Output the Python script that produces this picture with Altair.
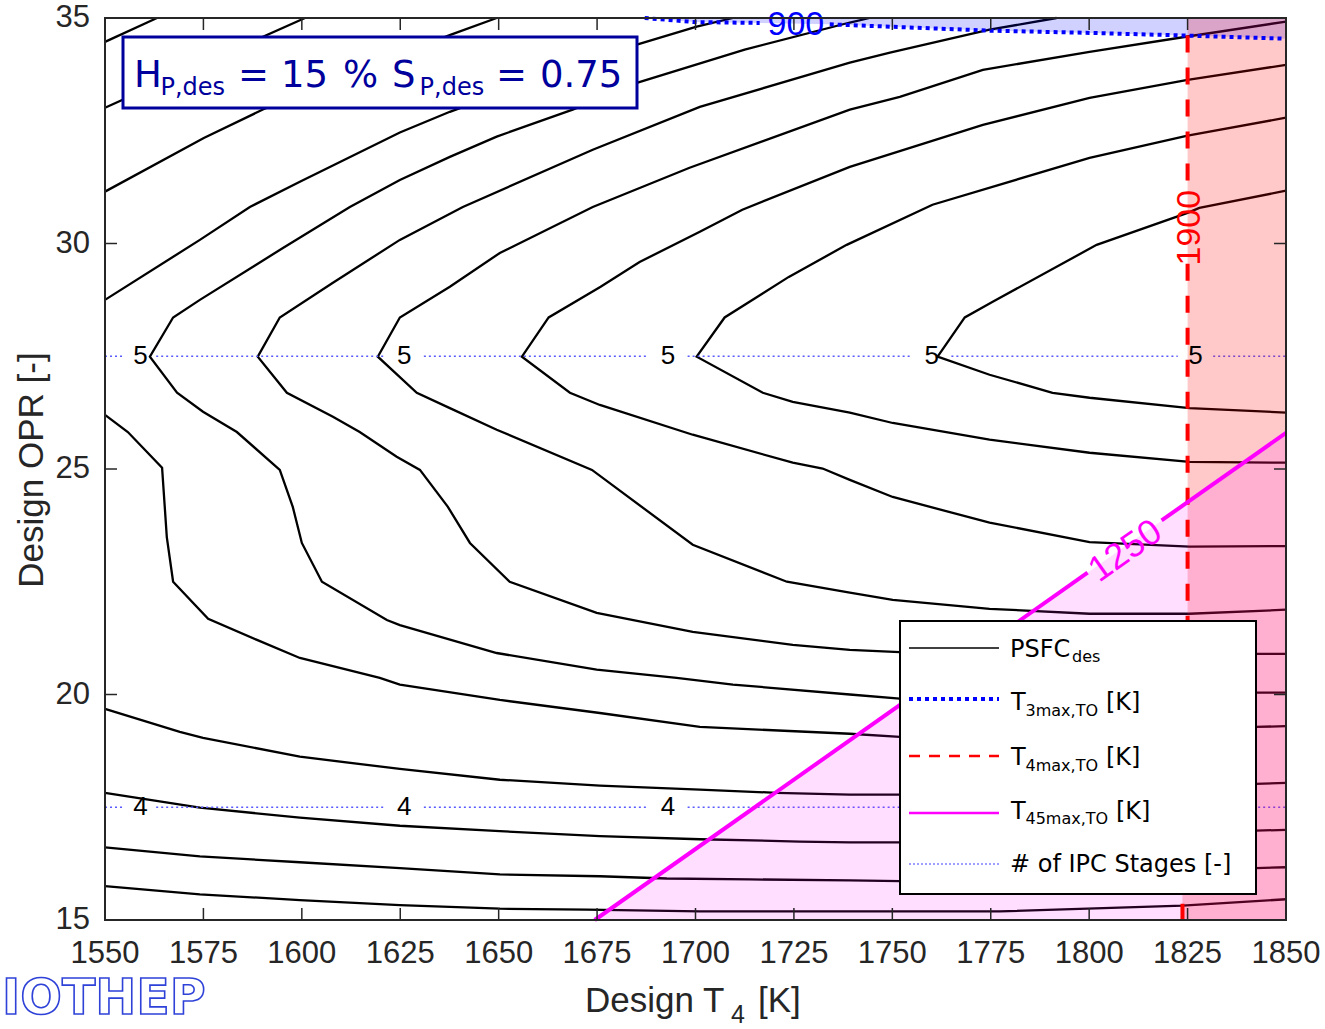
import altair as alt
import pandas as pd

# ---------------- data (Design T4 [K], Design OPR [-]) ----------------
# PSFC_des contour lines
c01_t4 = [1550.0, 1563.2]
c01_opr = [34.47, 35.0]
c02_t4 = [1550.0, 1575.1, 1600.8]
c02_opr = [33.01, 34.0, 35.0]
c03_t4 = [1550.0, 1575.1, 1590.1, 1612.2, 1637.9, 1649.5]
c03_opr = [31.15, 32.34, 32.97, 33.77, 34.63, 35.0]
c04_t4 = [1550.0, 1574.1, 1586.8, 1599.5, 1624.9, 1637.6, 1663.0, 1685.1, 1700.3, 1709.5]
c04_opr = [28.75, 30.08, 30.81, 31.37, 32.46, 32.92, 33.74, 34.41, 34.81, 35.0]
c05_t4 = [1744.2, 1739.2, 1712.5, 1685.1, 1668.8, 1649.5, 1637.6, 1624.9, 1612.2, 1595.2, 1574.1, 1567.3,
          1561.4, 1568.3, 1574.9, 1583.5, 1594.4, 1597.7, 1600.0, 1605.1, 1621.6, 1624.9, 1649.5, 1674.9,
          1695.2, 1709.5, 1739.2, 1751.9, 1842.3, 1850.0]
c05_opr = [35.0, 34.90, 34.30, 33.56, 32.97, 32.37, 31.92, 31.41, 30.81, 29.90, 28.75, 28.36,
           27.49, 26.69, 26.27, 25.82, 24.98, 24.16, 23.36, 22.50, 21.65, 21.54, 20.92, 20.55,
           20.37, 20.22, 20.00, 19.91, 20.04, 20.04]
c06_t4 = [1791.7, 1774.7, 1749.4, 1739.2, 1701.1, 1673.9, 1640.9, 1624.9, 1607.9, 1594.4, 1588.8,
          1596.2, 1607.9, 1614.7, 1624.1, 1630.0, 1637.1, 1642.7, 1652.8, 1674.9, 1699.3, 1724.7,
          1739.2, 1751.9, 1777.3, 1802.6, 1842.3, 1850.0]
c06_opr = [35.0, 34.74, 34.23, 34.01, 33.03, 32.08, 30.81, 30.08, 29.13, 28.36, 27.49,
           26.69, 26.16, 25.82, 25.27, 24.98, 24.16, 23.36, 22.50, 21.81, 21.39, 21.10,
           20.99, 20.94, 20.90, 20.88, 20.90, 20.90]
c07_t4 = [1850.0, 1825.0, 1800.1, 1773.0, 1751.9, 1739.2, 1698.5, 1673.9, 1650.3, 1637.6, 1624.9, 1619.3,
          1629.2, 1637.6, 1649.5, 1673.7, 1699.3, 1723.2, 1739.2, 1750.1, 1774.7, 1800.1, 1825.5, 1850.0]
c07_opr = [34.92, 34.59, 34.25, 33.85, 33.25, 32.97, 31.68, 30.81, 29.79, 29.04, 28.36, 27.49,
           26.69, 26.35, 25.87, 24.98, 23.32, 22.50, 22.26, 22.10, 21.90, 21.79, 21.79, 21.88]
c08_t4 = [1850.0, 1825.0, 1800.1, 1773.0, 1739.2, 1711.9, 1701.1, 1685.8, 1675.9, 1662.7, 1655.9,
          1668.1, 1675.7, 1699.3, 1724.7, 1732.3, 1739.2, 1750.1, 1774.7, 1800.1, 1825.5, 1850.0]
c08_opr = [33.96, 33.63, 33.23, 32.63, 31.70, 30.75, 30.26, 29.59, 29.04, 28.36, 27.49,
           26.69, 26.42, 25.76, 25.14, 25.01, 24.76, 24.38, 23.81, 23.38, 23.28, 23.29]
c09_t4 = [1850.0, 1825.0, 1800.1, 1760.2, 1738.4, 1723.7, 1707.4, 1700.3,
          1717.1, 1724.7, 1739.2, 1750.1, 1774.7, 1800.1, 1825.5, 1850.0]
c09_opr = [32.79, 32.39, 31.90, 30.86, 29.97, 29.26, 28.36, 27.49,
           26.69, 26.49, 26.25, 26.02, 25.65, 25.36, 25.16, 25.14]
c10_t4 = [1850.0, 1828.0, 1825.0, 1801.9, 1775.5, 1768.4, 1761.5,
          1774.7, 1790.7, 1800.1, 1825.5, 1850.0]
c10_opr = [31.17, 30.79, 30.68, 29.97, 28.71, 28.36, 27.49,
           27.09, 26.69, 26.58, 26.35, 26.25]
c11_t4 = [1550.0, 1555.8, 1564.5, 1565.7, 1567.3, 1576.2, 1588.6, 1599.5, 1619.8, 1624.9, 1650.3,
          1675.7, 1701.1, 1739.2, 1751.9, 1842.3, 1850.0]
c11_opr = [26.20, 25.82, 25.03, 23.49, 22.50, 21.68, 21.21, 20.81, 20.37, 20.22, 19.88,
           19.59, 19.28, 19.13, 19.06, 19.28, 19.30]
c12_t4 = [1550.0, 1569.0, 1574.9, 1599.5, 1624.9, 1650.3, 1675.7, 1701.1, 1720.6, 1739.2, 1751.9, 1842.3, 1850.0]
c12_opr = [19.68, 19.17, 19.04, 18.62, 18.35, 18.11, 17.98, 17.89, 17.82, 17.78, 17.78, 18.02, 18.04]
c13_t4 = [1550.0, 1574.1, 1599.5, 1624.9, 1650.3, 1675.7, 1701.1, 1726.5, 1739.2, 1751.9, 1842.3, 1850.0]
c13_opr = [17.82, 17.49, 17.27, 17.09, 16.97, 16.86, 16.79, 16.74, 16.72, 16.72, 16.98, 17.00]
c14_t4 = [1550.0, 1574.1, 1599.5, 1624.9, 1650.3, 1675.7, 1692.7, 1713.8, 1739.2, 1751.9, 1842.3, 1850.0]
c14_opr = [16.61, 16.41, 16.28, 16.15, 16.01, 15.97, 15.92, 15.90, 15.88, 15.86, 16.15, 16.17]
c15_t4 = [1550.0, 1574.1, 1599.5, 1624.9, 1650.3, 1672.4, 1701.1, 1739.2, 1777.3, 1823.7, 1850.0]
c15_opr = [15.75, 15.57, 15.44, 15.33, 15.25, 15.23, 15.19, 15.19, 15.19, 15.32, 15.46]

# T3max,TO = 900 K limit (blue dotted)
t3_t4 = [1687.1, 1699.8, 1716.3, 1734.1, 1774.7, 1800.1, 1825.0, 1850.0]
t3_opr = [35.0, 34.91, 34.89, 34.86, 34.72, 34.67, 34.61, 34.54]
t3_seg = [0, 0, 0, 1, 1, 1, 1, 1]

# T4max,TO = 1900 K limit (red dashed)
t4_t4 = [1825.0, 1825.0, 1825.0, 1825.0, 1823.7, 1823.7]
t4_opr = [34.61, 31.2, 29.55, 20.9, 16.0, 15.0]
t4_seg = [0, 0, 1, 1, 1, 1]
t4_fill_t4 = [1823.7, 1823.7, 1825.0, 1825.0]
t4_fill_opr = [15.0, 16.0, 20.9, 35.0]

# T45max,TO = 1250 K limit (magenta)
t45_t4 = [1674.4, 1799.6, 1818.4, 1850.0]
t45_opr = [15.0, 22.70, 23.86, 25.80]
t45_seg = [0, 0, 1, 1]

# number of IPC stages (light-blue dotted)
ipc_levels = [27.5, 17.5]
ipc_stage_text = ["5", "4"]
ipc_label_t4 = [1559, 1626, 1693, 1760, 1827]
ipc_gap = [4.0, 5.0, 5.0, 5.0, 4.5]

# limit labels
limit_text = ["900", "1900", "1250"]
limit_t4 = [1725.5, 1825.6, 1809.2]
limit_opr = [34.85, 30.35, 23.18]
limit_color = ["#0000ff", "#ff0000", "#ff00ff"]
limit_angle = [0, 270, 325]
limit_size = [34, 34, 36]

x_ticks = [1550, 1575, 1600, 1625, 1650, 1675, 1700, 1725, 1750, 1775, 1800, 1825, 1850]
y_ticks = [15, 20, 25, 30, 35]

# ---------------- build ----------------
W, H = 1181, 902
SANS = "Liberation Sans"
DV = "DejaVu Sans"
AX = "#262626"
xs = alt.Scale(domain=[1550, 1850], nice=False, zero=False)
ys = alt.Scale(domain=[15, 35], nice=False, zero=False)


def X(f):
    return alt.X(f, type="quantitative", scale=xs, axis=None)


def Y(f):
    return alt.Y(f, type="quantitative", scale=ys, axis=None)


contours = [(c01_t4, c01_opr), (c02_t4, c02_opr), (c03_t4, c03_opr), (c04_t4, c04_opr),
            (c05_t4, c05_opr), (c06_t4, c06_opr), (c07_t4, c07_opr), (c08_t4, c08_opr),
            (c09_t4, c09_opr), (c10_t4, c10_opr), (c11_t4, c11_opr), (c12_t4, c12_opr),
            (c13_t4, c13_opr), (c14_t4, c14_opr), (c15_t4, c15_opr)]
rows = []
for cid, (tx, ty) in enumerate(contours):
    for i, (a, b) in enumerate(zip(tx, ty)):
        rows.append({"cid": cid, "i": i, "t4": a, "opr": b})
contour_df = pd.DataFrame(rows)

contour_layer = alt.Chart(contour_df).mark_line(color="black", strokeWidth=2.3).encode(
    x=X("t4"), y=Y("opr"), detail="cid:N", order=alt.Order("i:Q"))

# IPC dotted lines with gaps at labels
ipc_rows = []
ipc_lbl_rows = []
sid = 0
for lev, lab in zip(ipc_levels, ipc_stage_text):
    pts = [1550.0]
    for lx, g in zip(ipc_label_t4, ipc_gap):
        pts += [lx - g, lx + g]
        ipc_lbl_rows.append({"t4": lx, "opr": lev, "s": lab})
    pts.append(1850.0)
    for k in range(0, len(pts), 2):
        ipc_rows.append({"sid": sid, "t4": pts[k], "opr": lev})
        ipc_rows.append({"sid": sid, "t4": pts[k + 1], "opr": lev})
        sid += 1
ipc_layer = alt.Chart(pd.DataFrame(ipc_rows)).mark_line(
    color="#5a5aff", strokeWidth=1.6, strokeDash=[2, 3]).encode(
    x=X("t4"), y=Y("opr"), detail="sid:N")
ipc_labels = alt.Chart(pd.DataFrame(ipc_lbl_rows)).mark_text(
    font=SANS, fontSize=26, color="black", align="center", baseline="middle").encode(
    x=X("t4"), y=Y("opr"), text="s:N")

# shaded regions
t3_df = pd.DataFrame({"t4": t3_t4, "opr": t3_opr, "seg": t3_seg, "top": [35.0] * len(t3_t4)})
blue_fill = alt.Chart(t3_df).mark_area(color="#0000ff", opacity=0.18).encode(
    x=X("t4"), y=Y("opr"), y2="top:Q")
red_df = pd.DataFrame({"t4": t4_fill_t4, "opr": t4_fill_opr, "right": [1850.0] * len(t4_fill_t4)})
red_fill = alt.Chart(red_df).mark_area(color="#ff0000", opacity=0.21, orient="horizontal").encode(
    y=Y("opr"), x=X("t4"), x2="right:Q")
mag_df = pd.DataFrame({"t4": [t45_t4[0], t45_t4[-1]], "opr": [t45_opr[0], t45_opr[-1]], "bot": [15.0, 15.0]})
mag_fill = alt.Chart(mag_df).mark_area(color="#ff00ff", opacity=0.13).encode(
    x=X("t4"), y=Y("opr"), y2="bot:Q")

t3_line = alt.Chart(t3_df).mark_line(color="#0000ff", strokeWidth=4, strokeDash=[4, 4]).encode(
    x=X("t4"), y=Y("opr"), detail="seg:N")
t4_df = pd.DataFrame({"t4": t4_t4, "opr": t4_opr, "seg": t4_seg, "i": list(range(len(t4_t4)))})
t4_line = alt.Chart(t4_df).mark_line(color="#ff0000", strokeWidth=4, strokeDash=[17, 15]).encode(
    x=X("t4"), y=Y("opr"), detail="seg:N", order=alt.Order("i:Q"))
t45_df = pd.DataFrame({"t4": t45_t4, "opr": t45_opr, "seg": t45_seg})
t45_line = alt.Chart(t45_df).mark_line(color="#ff00ff", strokeWidth=4).encode(
    x=X("t4"), y=Y("opr"), detail="seg:N")

limit_layers = []
for s, a, b, c, ang, sz in zip(limit_text, limit_t4, limit_opr, limit_color, limit_angle, limit_size):
    mk = dict(font=SANS, fontSize=sz, color=c, align="center", baseline="middle")
    if ang:
        mk["angle"] = ang
    limit_layers.append(alt.Chart(pd.DataFrame({"t4": [a], "opr": [b], "s": [s]})).mark_text(**mk).encode(
        x=X("t4"), y=Y("opr"), text="s:N"))

# ticks and frame
xt = pd.DataFrame({"v": x_ticks, "lbl": [str(v) for v in x_ticks]})
yt = pd.DataFrame({"v": y_ticks, "lbl": [str(v) for v in y_ticks]})
tick_layers = [
    alt.Chart(xt).mark_rule(color=AX, strokeWidth=1.5).encode(x=X("v"), y=alt.value(H), y2=alt.value(H - 12)),
    alt.Chart(xt).mark_rule(color=AX, strokeWidth=1.5).encode(x=X("v"), y=alt.value(0), y2=alt.value(12)),
    alt.Chart(yt).mark_rule(color=AX, strokeWidth=1.5).encode(y=Y("v"), x=alt.value(0), x2=alt.value(12)),
    alt.Chart(yt).mark_rule(color=AX, strokeWidth=1.5).encode(y=Y("v"), x=alt.value(W), x2=alt.value(W - 12)),
]
one = pd.DataFrame({"a": [0]})
frame = alt.Chart(one).mark_rect(fillOpacity=0, stroke=AX, strokeWidth=2).encode(
    x=alt.value(0), x2=alt.value(W), y=alt.value(0), y2=alt.value(H))

x_labels = alt.Chart(xt).mark_text(font=SANS, fontSize=31, color=AX, align="center", baseline="alphabetic").encode(
    x=X("v"), y=alt.value(945), text="lbl:N")
y_labels = alt.Chart(yt).mark_text(font=SANS, fontSize=31, color=AX, align="right", baseline="middle").encode(
    x=alt.value(-15), y=Y("v"), text="lbl:N")


def txt(s, x, y, size, color=AX, font=SANS, align="left", baseline="alphabetic", angle=None, **kw):
    mk = dict(align=align, baseline=baseline, fontSize=size, font=font, **kw)
    if color is not None:
        mk["color"] = color
    if angle is not None:
        mk["angle"] = angle
    return alt.Chart(pd.DataFrame({"s": [s]})).mark_text(**mk).encode(
        x=alt.value(x), y=alt.value(y), text="s:N")


def hrule(x1, x2, y, color, width, dash=None):
    mk = dict(color=color, strokeWidth=width)
    if dash:
        mk["strokeDash"] = dash
    return alt.Chart(one).mark_rule(**mk).encode(x=alt.value(x1), x2=alt.value(x2), y=alt.value(y))


def box(x1, x2, y1, y2, stroke, width):
    return alt.Chart(one).mark_rect(fill="white", stroke=stroke, strokeWidth=width).encode(
        x=alt.value(x1), x2=alt.value(x2), y=alt.value(y1), y2=alt.value(y2))


BLUE_T = "#00009c"
annot = [
    box(18, 532, 19, 90, BLUE_T, 3),
    txt("H", 29, 69, 37, BLUE_T, DV),
    txt("P,des", 55.5, 77, 24, BLUE_T, DV),
    txt("=", 133, 69, 37, BLUE_T, DV),
    txt("15", 176, 69, 37, BLUE_T, DV),
    txt("%", 238, 69, 37, BLUE_T, DV),
    txt("S", 287, 69, 37, BLUE_T, DV),
    txt("P,des", 314.6, 77, 24, BLUE_T, DV),
    txt("=", 391, 69, 37, BLUE_T, DV),
    txt("0.75", 435, 69, 37, BLUE_T, DV),
]

LC = "black"
legend = [
    box(795, 1151, 603, 876, "black", 2),
    hrule(804, 894, 630, "black", 1.5),
    hrule(804, 894, 681, "#0000ff", 4, [4, 4]),
    hrule(804, 894, 738, "#ff0000", 2.5, [11, 9]),
    hrule(804, 894, 795, "#ff00ff", 2.5),
    hrule(804, 894, 846, "#8080ff", 1.5, [2, 2]),
    txt("PSFC", 905, 639, 24, LC, DV),
    txt("des", 967, 644, 16, LC, DV),
    txt("T", 906, 692, 24, LC, DV),
    txt("3max,TO", 920.5, 698, 16, LC, DV),
    txt("[K]", 1001, 692, 24, LC, DV),
    txt("T", 906, 747, 24, LC, DV),
    txt("4max,TO", 920.5, 753, 16, LC, DV),
    txt("[K]", 1001, 747, 24, LC, DV),
    txt("T", 906, 801, 24, LC, DV),
    txt("45max,TO", 920.5, 806, 16, LC, DV),
    txt("[K]", 1011, 801, 24, LC, DV),
    txt("# of IPC Stages [-]", 905, 854, 24, LC, DV),
]

titles = [
    txt("Design T", 480, 994, 35),
    txt("4", 626, 1005, 25),
    txt("[K]", 653, 994, 35),
    txt("Design OPR [-]", -62, 452, 35, align="center", angle=270),
    txt("IOTHEP", -103, 996, 49, None, DV, fontWeight="bold", fill="white", stroke="#2f42d8", strokeWidth=1.6),
]

layers = ([contour_layer, ipc_layer, blue_fill, red_fill, mag_fill, t3_line, t4_line, t45_line,
           ipc_labels] + limit_layers + tick_layers + [frame] + annot + legend +
          [x_labels, y_labels] + titles)

chart = alt.layer(*layers).properties(
    width=W, height=H,
    autosize=alt.AutoSizeParams(type="none"),
    padding={"left": 105, "top": 18, "right": 39, "bottom": 109},
    background="white",
).configure_view(strokeWidth=0)

chart.save("out.html", embed_options={"renderer": "svg", "actions": False})
